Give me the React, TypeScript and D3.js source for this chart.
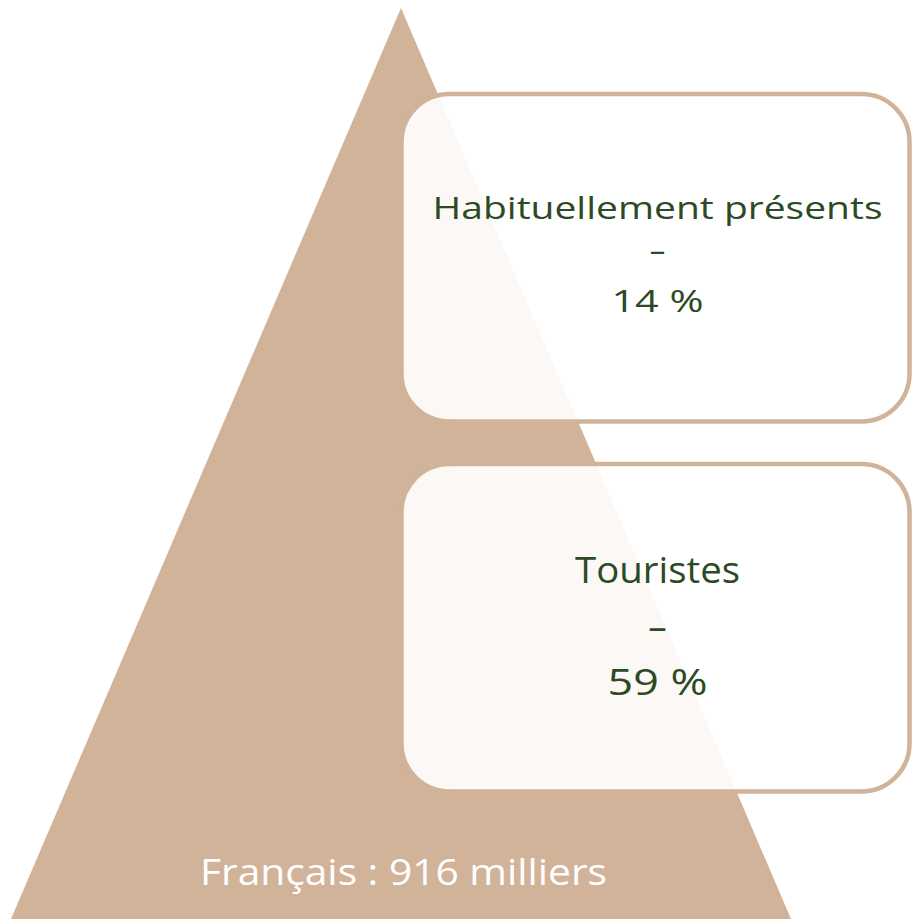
import React from "react";
import * as d3 from "d3";

const categories = ["Habituellement présents", "Touristes"];
const shares = [14, 59];
const totalLabel = "Français";
const totalValue = 916;
const totalUnit = "milliers";

const W = 912;
const H = 919;
const TAN = "#D1B39A";
const GREEN = "#2C4A24";
const FONT = "'Open Sans', 'Noto Sans', sans-serif";

export default function App() {
  // pyramid geometry from scales
  const yScale = d3.scaleLinear().domain([0, totalValue]).range([H, 8]);
  const halfWidth = d3.scaleLinear().domain([0, totalValue]).range([390, 0]);
  const apexX = 401;
  const pts: [number, number][] = [
    [apexX - halfWidth(0), yScale(0)],
    [apexX, yScale(totalValue)],
    [apexX + halfWidth(0), yScale(0)],
  ];
  const tri = d3.line()(pts) + "Z";

  const band = d3
    .scaleBand<string>()
    .domain(categories)
    .range([94, 791.5])
    .paddingInner(0.115)
    .paddingOuter(0);

  const boxX = 401.5;
  const boxW = 508;
  const boxCx = boxX + boxW / 2 + 2;

  // per-box text layout (offsets from box top)
  const layout = [
    { fs: 31, l1: 125, dash: 167, l3: 218, w1: 450, w3: 92 },
    { fs: 37, l1: 119, dash: 176, l3: 231, w1: 165, w3: 100 },
  ];

  return (
    <svg
      width={W}
      height={H}
      style={{ position: "absolute", left: 0, top: 0, display: "block" }}
    >
      <rect x={0} y={0} width={W} height={H} fill="#ffffff" />
      <path d={tri} fill={TAN} />
      {categories.map((c, i) => {
        const y0 = band(c)!;
        const h = band.bandwidth();
        const L = layout[i];
        return (
          <g key={c}>
            <rect
              x={boxX}
              y={y0}
              width={boxW}
              height={h}
              rx={48}
              ry={48}
              fill="#ffffff"
              fillOpacity={0.9}
              stroke={TAN}
              strokeWidth={4.5}
            />
            <g
              fill={GREEN}
              fontFamily={FONT}
              fontSize={L.fs}
              fontWeight={500}
              textAnchor="middle"
            >
              <text
                x={boxCx}
                y={y0 + L.l1}
                textLength={L.w1}
                lengthAdjust="spacingAndGlyphs"
              >
                {c}
              </text>
              <text x={boxCx} y={y0 + L.dash}>
                –
              </text>
              <text
                x={boxCx}
                y={y0 + L.l3}
                textLength={L.w3}
                lengthAdjust="spacingAndGlyphs"
              >
                {`${shares[i]} %`}
              </text>
            </g>
          </g>
        );
      })}
      <text
        x={403.5}
        y={885}
        fill="#ffffff"
        fontFamily={FONT}
        fontSize={37}
        fontWeight={500}
        textAnchor="middle"
        textLength={407}
        lengthAdjust="spacingAndGlyphs"
      >
        {`${totalLabel} : ${totalValue} ${totalUnit}`}
      </text>
    </svg>
  );
}
